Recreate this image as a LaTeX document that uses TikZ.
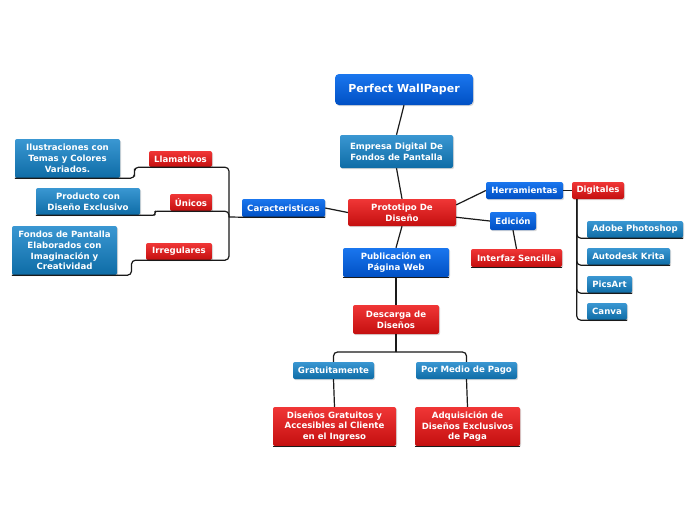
\documentclass[tikz,border=0pt]{standalone}
\usepackage{fontspec}
\setmainfont{DejaVu Sans}
\usetikzlibrary{calc,shadows}
\definecolor{BlueTop}{HTML}{1A76EE}
\definecolor{BlueBot}{HTML}{0050C4}
\definecolor{TealTop}{HTML}{3A97D2}
\definecolor{TealBot}{HTML}{0E6CA6}
\definecolor{RedTop}{HTML}{F03636}
\definecolor{RedBot}{HTML}{C40F0F}
\definecolor{Wire}{HTML}{1A1A1A}

\begin{document}
\begin{tikzpicture}[x=1pt,y=-1pt,
      box/.style={rounded corners=2pt,text=white,align=center,inner sep=2pt,
        font=\fontsize{8.6}{10.8}\selectfont\bfseries,
        drop shadow={opacity=0.3,shadow xshift=1pt,shadow yshift=-1.2pt}},
      bluebox/.style={box,top color=BlueTop,bottom color=BlueBot},
      tealbox/.style={box,top color=TealTop,bottom color=TealBot},
      redbox/.style={box,top color=RedTop,bottom color=RedBot},
      dim/.style 2 args={minimum width=#1,minimum height=#2},
      link/.style={draw=Wire,line width=1.2pt},
      elbow/.style={link,rounded corners=4pt}]
      \fill[white] (0,0) rectangle (696,520);
      \useasboundingbox (0,0) rectangle (696,520);
      % centre
      \node[bluebox,rounded corners=4pt,dim={138}{31},font=\fontsize{11}{13}\selectfont\bfseries]
        (wall) at (404,89.5) {Perfect WallPaper};
      \node[tealbox,dim={113}{33}] (empresa) at (396.5,151.5) {Empresa Digital De\\Fondos de Pantalla};
      \node[redbox,dim={108}{27}] (proto) at (402,212.5) {Prototipo De\\Diseño};
      \node[bluebox,dim={106}{29}] (publ) at (396,262.5) {Publicación en\\Página Web};
      \node[redbox,dim={86}{29}] (desc) at (396,319.5) {Descarga de\\Diseños};
      \node[tealbox,dim={81}{17}] (grat) at (333.5,370.5) {Gratuitamente};
      \node[tealbox,dim={101}{17}] (pago) at (466.5,370.5) {Por Medio de Pago};
      \node[redbox,dim={123}{39}] (dgrat) at (334.5,426.5) {Diseños Gratuitos y\\Accesibles al Cliente\\en el Ingreso};
      \node[redbox,dim={105}{39}] (adq) at (467.5,426.5) {Adquisición de\\Diseños Exclusivos\\de Paga};
      % left branch
      \node[bluebox,dim={83}{18}] (carac) at (283.5,208) {Caracteristicas};
      \node[redbox,dim={63}{16}] (llam) at (180.5,159) {Llamativos};
      \node[redbox,dim={42}{17}] (unic) at (191,202.5) {Únicos};
      \node[redbox,dim={66}{17}] (irreg) at (179,251.5) {Irregulares};
      \node[tealbox,dim={105}{39}] (ilus) at (67.5,158.5) {Ilustraciones con\\Temas y Colores\\Variados.};
      \node[tealbox,dim={104}{27}] (prod) at (88,201.5) {Producto con\\Diseño Exclusivo};
      \node[tealbox,dim={105}{49}] (fond) at (64.5,250.5) {Fondos de Pantalla\\Elaborados con\\Imaginación y\\Creatividad};
      % right branch
      \node[bluebox,dim={77}{17}] (herr) at (524.5,190.5) {Herramientas};
      \node[redbox,dim={52}{17}] (digit) at (598,190.5) {Digitales};
      \node[bluebox,dim={46}{18}] (edic) at (513,221) {Edición};
      \node[redbox,dim={91}{18}] (interf) at (516.5,258) {Interfaz Sencilla};
      \node[tealbox,dim={96}{17}] (adobe) at (635,229.5) {Adobe Photoshop};
      \node[tealbox,dim={83}{17}] (krita) at (628.5,256.5) {Autodesk Krita};
      \node[tealbox,dim={45}{17}] (pics) at (609.5,284.5) {PicsArt};
      \node[tealbox,dim={40}{17}] (canva) at (607,311.5) {Canva};
      % connectors
      \draw[link] (wall.south) -- (empresa.north);
      \draw[link] (empresa.south) -- (proto.north);
      \draw[link] (proto.south) -- (publ.north);
      \draw[link] (publ.south) -- (desc.north);
      \draw[link] (proto.west) -- (carac.east);
      \draw[link] (proto.8) -- (herr.west);
      \draw[link] (proto.-5) -- (edic.west);
      \draw[link] (herr.east) -- (digit.west);
      \draw[link] (edic.south) -- (interf.north);
      \coordinate (lb) at (229,217);
      \draw[link] (carac.south east) -- (carac.south west) -- (lb);
      \draw[elbow] (lb) |- (llam.south east) -| ($(ilus.south east)!0.5!(llam.south west)$) |- (ilus.south west);
      \draw[elbow] (lb) |- (unic.south east);
      \draw[link,rounded corners=2pt] (unic.south east) -| ($(prod.south east)!0.5!(unic.south west)$) |- (prod.south west);
      \draw[elbow] (lb) |- (irreg.south east) -| ($(fond.south east)!0.5!(irreg.south west)$) |- (fond.south west);
      \coordinate (rb) at ($(digit.south west)+(5,0)$);
      \foreach \n in {adobe,krita,pics,canva}
        \draw[elbow] (rb) |- (\n.south east);
      \coordinate (db) at (396,352);
      \draw[link] (desc.south) -- (db);
      \draw[elbow] (db) -| (grat.north);
      \draw[elbow] (db) -| (pago.north);
      \draw[link] (grat.south) -- (dgrat.north);
      \draw[link] (pago.south) -- (adq.north);
      \foreach \n in {publ,interf,dgrat,adq}
        \draw[link] (\n.south west) -- (\n.south east);
    \end{tikzpicture}
\end{document}
